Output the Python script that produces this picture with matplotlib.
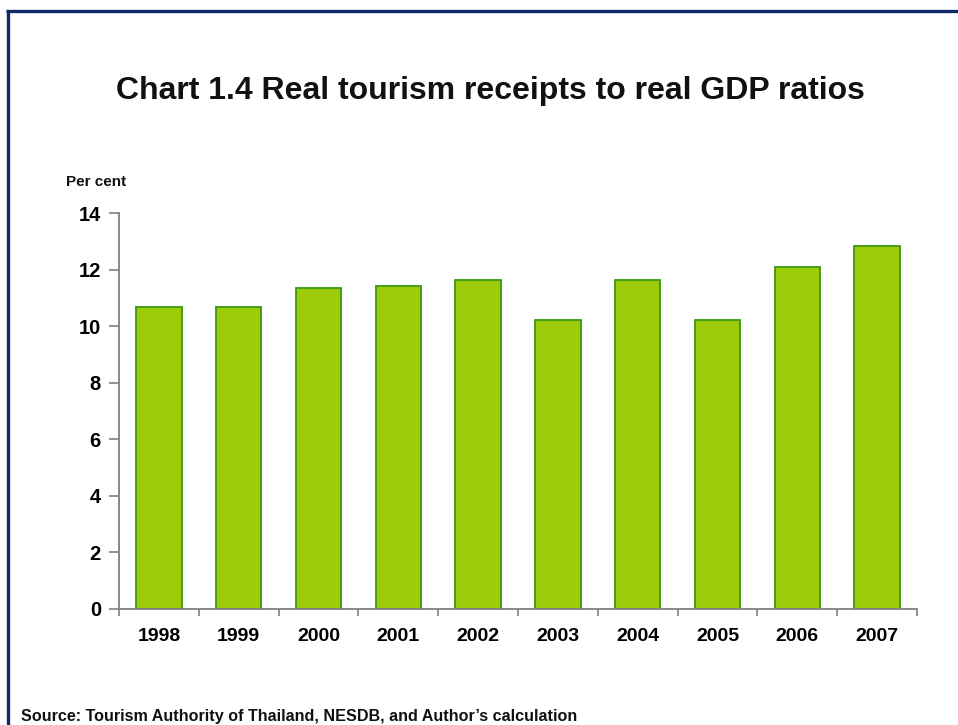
import matplotlib
matplotlib.use("Agg")
import matplotlib.pyplot as plt
from matplotlib.lines import Line2D
import numpy as np

years = ["1998", "1999", "2000", "2001", "2002", "2003", "2004", "2005", "2006", "2007"]
ratios = [10.68, 10.68, 11.35, 11.44, 11.64, 10.22, 11.64, 10.22, 12.09, 12.85]
y_ticks = [0, 2, 4, 6, 8, 10, 12, 14]

plt.rcParams["font.family"] = ["Liberation Sans", "DejaVu Sans"]
plt.rcParams["font.weight"] = "bold"

W, H = 958, 725
fig = plt.figure(figsize=(W / 100, H / 100), dpi=100)
fig.patch.set_facecolor("white")

ax = fig.add_axes([119 / W, (H - 609) / H, (917 - 119) / W, (609 - 213.3) / H])
x = np.arange(len(years))
ax.bar(x, ratios, width=0.57, color="#9ecb0a", edgecolor="#3a9a12", linewidth=1.3, zorder=2)

ax.set_xlim(-0.5, len(years) - 0.5)
ax.set_ylim(0, 14)
ax.set_yticks(y_ticks)
ax.set_yticklabels([str(v) for v in y_ticks], fontsize=14.5, fontweight="bold")
ax.set_xticks(x)
ax.set_xticklabels(years, fontsize=14, fontweight="bold")
ax.set_xticks(np.arange(-0.5, len(years)), minor=True)
ax.tick_params(axis="x", which="major", length=0, pad=14)
ax.tick_params(axis="x", which="minor", length=5, width=1.2, color="#808080", direction="out")
ax.tick_params(axis="y", length=7, width=1.2, color="#808080", pad=6, direction="out")

for side in ("top", "right"):
    ax.spines[side].set_visible(False)
for side in ("left", "bottom"):
    ax.spines[side].set_color("#808080")
    ax.spines[side].set_linewidth(1.3)

fig.text(490 / W, 1 - 91 / H, "Chart 1.4 Real tourism receipts to real GDP ratios",
         ha="center", va="center", fontsize=23, fontweight="bold", color="#111111")
fig.text(66 / W, 1 - 182 / H, "Per cent", ha="left", va="center",
         fontsize=11, fontweight="bold", color="#111111")
fig.text(21 / W, 1 - 716 / H,
         "Source: Tourism Authority of Thailand, NESDB, and Author\u2019s calculation",
         ha="left", va="center", fontsize=11.6, fontweight="bold", color="#111111")

# page frame along the top and left edges
navy = "#0c2a66"
fig.add_artist(Line2D([6 / W, 1.0], [1 - 10.5 / H, 1 - 10.5 / H], transform=fig.transFigure,
                      color=navy, linewidth=2.4, solid_capstyle="butt"))
fig.add_artist(Line2D([8 / W, 8 / W], [0.0, 1 - 9.5 / H], transform=fig.transFigure,
                      color=navy, linewidth=2.4, solid_capstyle="butt"))

fig.savefig("out.png", dpi=100, facecolor="white")
